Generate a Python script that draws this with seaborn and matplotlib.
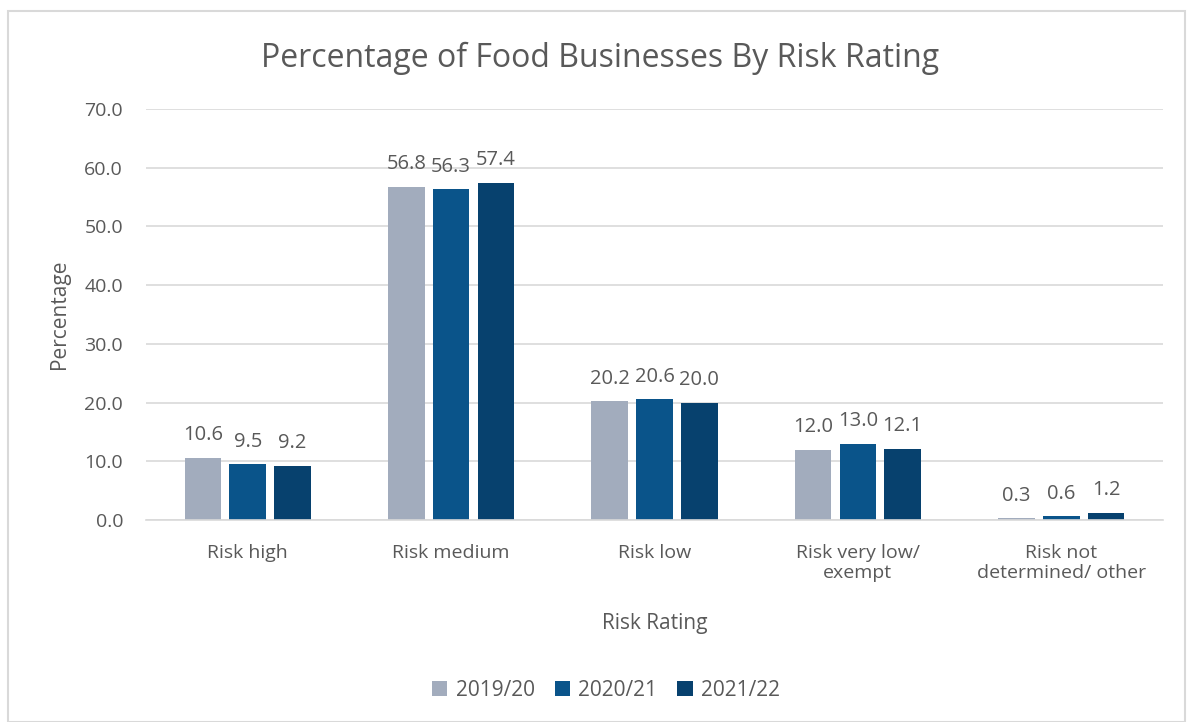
import matplotlib
matplotlib.use("Agg")
import matplotlib.pyplot as plt
import seaborn as sns
import pandas as pd
from matplotlib.patches import Rectangle

categories = ["Risk high", "Risk medium", "Risk low", "Risk very low/\nexempt", "Risk not\ndetermined/ other"]
years = ["2019/20", "2020/21", "2021/22"]
v2019 = [10.6, 56.8, 20.2, 12.0, 0.3]
v2020 = [9.5, 56.3, 20.6, 13.0, 0.6]
v2021 = [9.2, 57.4, 20.0, 12.1, 1.2]
colors = ["#A2ACBD", "#0A548A", "#07416E"]

rows = []
for y, vals in zip(years, [v2019, v2020, v2021]):
    for c, v in zip(categories, vals):
        rows.append({"Risk Rating": c, "Year": y, "Percentage": v})
df = pd.DataFrame(rows)

sns.set_theme(style="white")
plt.rcParams['font.family'] = ['Open Sans', 'DejaVu Sans']
txt = "#595959"

fig = plt.figure(figsize=(11.9, 7.22), dpi=100)
ax = fig.add_axes([146/1190, 1-520/722, (1163-146)/1190, (520-109)/722])

sns.barplot(data=df, x="Risk Rating", y="Percentage", hue="Year", palette=colors,
            width=0.66, gap=0.18, ax=ax, saturation=1, errorbar=None, linewidth=0)

for cont in ax.containers:
    ax.bar_label(cont, fmt="%.1f", padding=9, fontsize=14.5, color=txt)

ax.set_ylim(0, 70)
ax.set_yticks(range(0, 71, 10))
ax.set_yticklabels([f"{t:.1f}" for t in range(0, 71, 10)], fontsize=14, color=txt)
ax.tick_params(axis='x', labelsize=14, colors=txt, length=0, pad=17)
ax.tick_params(axis='y', length=0, pad=16.5)
ax.grid(axis='y', color="#D9D9D9", linewidth=1.2)
ax.set_axisbelow(True)
for s in ["top", "right", "left"]:
    ax.spines[s].set_visible(False)
ax.spines["bottom"].set_color("#D9D9D9")
ax.spines["bottom"].set_linewidth(1.2)

ax.set_xlabel("Risk Rating", fontsize=15, color=txt, labelpad=22)
ax.set_ylabel("Percentage", fontsize=15, color=txt, labelpad=10)

fig.text(600/1190, 1-58/722, "Percentage of Food Businesses By Risk Rating",
         ha="center", va="center", fontsize=23, color=txt)

leg = ax.legend(loc="center", bbox_to_anchor=(606/1190, 1-690/722), bbox_transform=fig.transFigure,
                ncol=3, frameon=False, fontsize=15, handlelength=0.75, handleheight=0.75,
                columnspacing=0.95, handletextpad=0.4, title=None)
for t in leg.get_texts():
    t.set_color(txt)

fig.patches.append(Rectangle((8/1190, 0), (1185-8)/1190, 1-11/722, transform=fig.transFigure,
                             fill=False, edgecolor="#D9D9D9", linewidth=1.5))

fig.savefig("out.png", dpi=100)
